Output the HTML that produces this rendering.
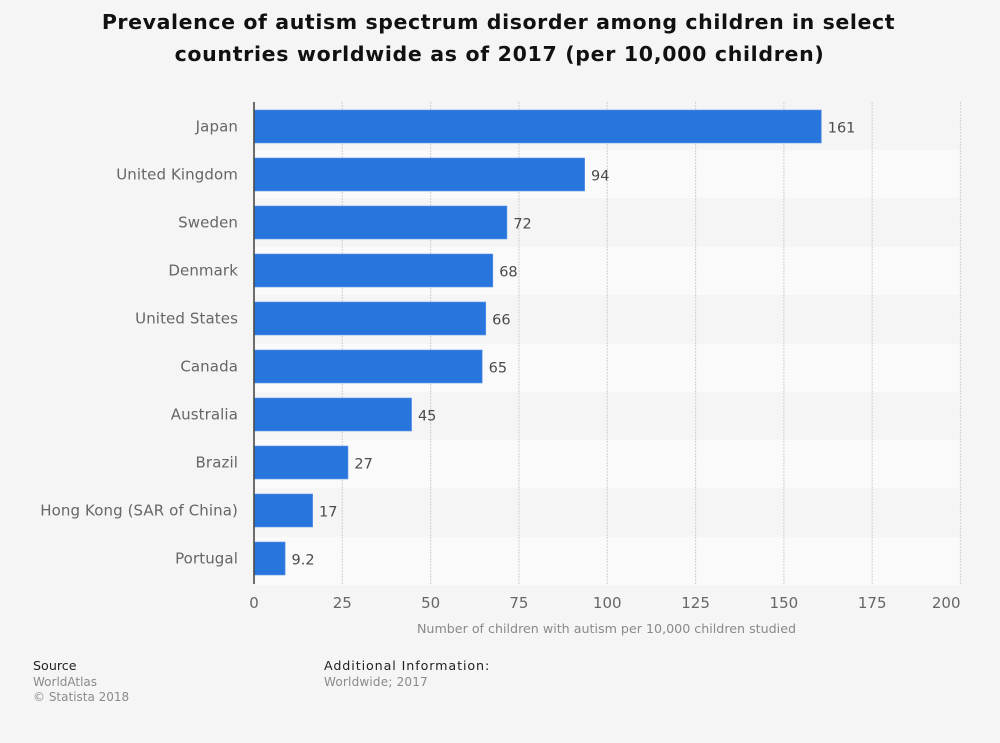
<!DOCTYPE html>
<html lang="en">
<head>
<meta charset="utf-8">
<title>Prevalence of autism spectrum disorder</title>
<style>
html,body{margin:0;padding:0;background:#f5f5f5;}
svg{display:block;font-family:"DejaVu Sans",sans-serif;}
</style>
</head>
<body>
<svg id="chart" xmlns="http://www.w3.org/2000/svg" width="1000" height="743" viewBox="0 0 1000 743">
  <rect x="0" y="0" width="1000" height="743" fill="#f5f5f5"/>
  <g font-size="20.5" font-weight="700" fill="#111111" text-anchor="middle">
    <text x="498.5" y="29" letter-spacing="0.6">Prevalence of autism spectrum disorder among children in select</text>
    <text x="499.5" y="61" letter-spacing="0.68">countries worldwide as of 2017 (per 10,000 children)</text>
  </g>
  <g id="bands"></g>
  <g id="grid"></g>
  <g id="bars"></g>
  <g id="xticks"></g>
  <g id="ylabels"></g>
  <line x1="254" y1="102" x2="254" y2="584" stroke="#4a4a4a" stroke-width="1.6"/>
  <text x="606.5" y="633" font-size="12.67" fill="#8a8a8a" text-anchor="middle">Number of children with autism per 10,000 children studied</text>
  <text x="33" y="670" font-size="12.7" fill="#222222">Source</text>
  <text x="33" y="686" font-size="12" fill="#8a8a8a">WorldAtlas</text>
  <text x="33" y="701" font-size="12" fill="#8a8a8a">© Statista 2018</text>
  <text x="324" y="670" font-size="12.7" fill="#222222" letter-spacing="0.9">Additional Information:</text>
  <text x="324" y="686" font-size="12" fill="#8a8a8a" letter-spacing="0.2">Worldwide; 2017</text>
</svg>
<script>
const categories = ["Japan","United Kingdom","Sweden","Denmark","United States","Canada","Australia","Brazil","Hong Kong (SAR of China)","Portugal"];
const seriesValues = [161,94,72,68,66,65,45,27,17,9.2];
const valueLabels = ["161","94","72","68","66","65","45","27","17","9.2"];
const xTicks = [0,25,50,75,100,125,150,175,200];

const NS = "http://www.w3.org/2000/svg";
const plotLeft = 254, plotRight = 960.5, plotTop = 102, plotBottom = 585;
const xMax = 200;
const barPitch = 48.1;
function xScale(v){ return plotLeft + (v / xMax) * (plotRight - plotLeft); }
const bandH = (plotBottom - plotTop) / categories.length;
function bandTop(i){ return plotTop + i * bandH; }
function barTop(i){ return Math.floor(plotTop + 8 + i * barPitch); }
function mk(tag, attrs, parent){
  const el = document.createElementNS(NS, tag);
  for (const k in attrs) el.setAttribute(k, attrs[k]);
  parent.appendChild(el);
  return el;
}
const bands = document.getElementById("bands");
const grid = document.getElementById("grid");
const bars = document.getElementById("bars");
const xt = document.getElementById("xticks");
const yl = document.getElementById("ylabels");

categories.forEach(function(name, i){
  if (i % 2 === 1) {
    const b = mk("rect", {x: plotLeft, y: Math.round(bandTop(i)), width: plotRight - plotLeft, height: Math.round(bandH), fill: "#fafafa"}, bands);
    
    
  }
  const top = barTop(i);
  const bar = mk("rect", {x: plotLeft, y: top, width: xScale(seriesValues[i]) - plotLeft - 1.4, height: 33, fill: "#2875de", stroke: "#5f98e8", "stroke-width": 0.6}, bars);
  
  
  const val = mk("text", {x: xScale(seriesValues[i]) + 5, y: top + 22.7, "font-size": 14.5, fill: "#4a4a4a"}, bars);
  val.textContent = valueLabels[i];
  
  
  const lab = mk("text", {x: 238, y: top + 21.5, "font-size": 15, fill: "#666666", "text-anchor": "end", "letter-spacing": 0.1}, yl);
  lab.textContent = name;
  
  
});

xTicks.forEach(function(t){
  const x = xScale(t);
  if (t !== 0) {
    const g = mk("line", {x1: x, y1: plotTop, x2: x, y2: plotBottom, stroke: "#d6d6d6", "stroke-width": 1.2, "stroke-dasharray": "2 1"}, grid);
    
    
  }
  const atEnd = t === xMax;
  const lbl = mk("text", {x: x, y: 608, "font-size": 15, fill: "#666666", "text-anchor": atEnd ? "end" : "middle"}, xt);
  lbl.textContent = String(t);
  
  
});
</script>
</body>
</html>
